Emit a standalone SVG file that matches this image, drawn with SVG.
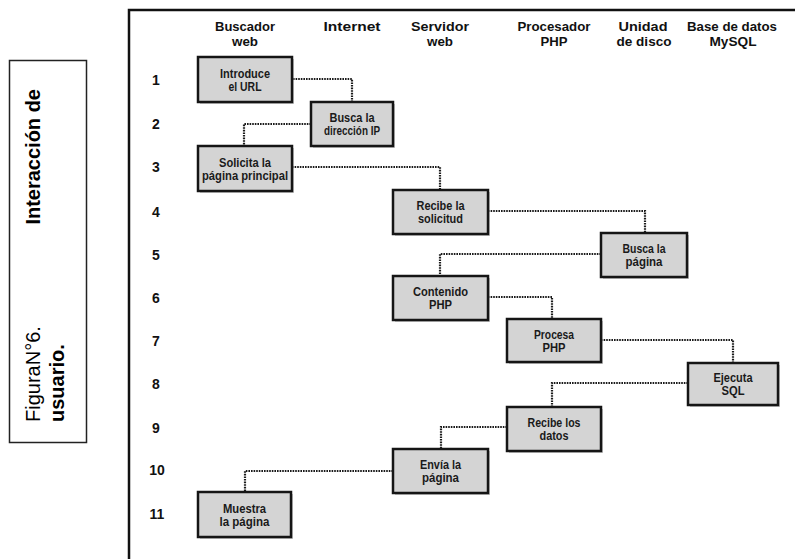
<svg xmlns="http://www.w3.org/2000/svg" width="795" height="559" viewBox="0 0 795 559">
<style>
.hdr{font-family:"Liberation Sans",Arial,sans-serif;font-weight:bold;font-size:13.5px;fill:#111;text-anchor:middle}
.num{font-family:"Liberation Sans",Arial,sans-serif;font-weight:bold;font-size:14px;fill:#111;text-anchor:middle}
.bt{font-family:"Liberation Sans",Arial,sans-serif;font-weight:bold;font-size:12px;fill:#1a1a1a;text-anchor:middle}
.box{fill:#d4d4d4;stroke:#151515;stroke-width:2.5}
.sh{fill:#9a9a9a;opacity:0.55}
.con{fill:none;stroke:#1a1a1a;stroke-width:2.2;stroke-dasharray:1.6 1}
.cap{font-family:"Liberation Sans",Arial,sans-serif;font-size:20px;fill:#000}
.frame{fill:none;stroke:#111;stroke-width:2.5}
</style>
<rect width="795" height="559" fill="#fff"/>
<g id="caption">
<rect x="9.5" y="60.5" width="77" height="382" fill="none" stroke="#222" stroke-width="1.5"/>
<text class="cap" transform="translate(40,422) rotate(-90)">FiguraN°6.</text>
<text class="cap" font-weight="bold" text-anchor="end" transform="translate(40,89) rotate(-90)">Interacción de</text>
<text class="cap" font-weight="bold" transform="translate(64,422) rotate(-90)">usuario.</text>
</g>
<path class="frame" d="M129,559 V10 H795"/>
<g id="headers">
<text class="hdr" x="245" y="31" textLength="60" lengthAdjust="spacingAndGlyphs">Buscador</text><text class="hdr" x="245" y="45.5" textLength="26" lengthAdjust="spacingAndGlyphs">web</text>
<text class="hdr" x="352" y="31" textLength="57" lengthAdjust="spacingAndGlyphs">Internet</text>
<text class="hdr" x="440" y="31" textLength="58" lengthAdjust="spacingAndGlyphs">Servidor</text><text class="hdr" x="440" y="45.5" textLength="26" lengthAdjust="spacingAndGlyphs">web</text>
<text class="hdr" x="554" y="31" textLength="73" lengthAdjust="spacingAndGlyphs">Procesador</text><text class="hdr" x="554" y="45.5" textLength="27" lengthAdjust="spacingAndGlyphs">PHP</text>
<text class="hdr" x="643" y="31" textLength="49" lengthAdjust="spacingAndGlyphs">Unidad</text><text class="hdr" x="644" y="45.5" textLength="55" lengthAdjust="spacingAndGlyphs">de disco</text>
<text class="hdr" x="732" y="31" textLength="90" lengthAdjust="spacingAndGlyphs">Base de datos</text><text class="hdr" x="733" y="45.5" textLength="47" lengthAdjust="spacingAndGlyphs">MySQL</text>
</g>
<g id="rows">
<text class="num" x="156" y="85">1</text>
<text class="num" x="156" y="129">2</text>
<text class="num" x="156" y="172">3</text>
<text class="num" x="156" y="217">4</text>
<text class="num" x="156" y="260">5</text>
<text class="num" x="156" y="303">6</text>
<text class="num" x="156" y="346">7</text>
<text class="num" x="156" y="389">8</text>
<text class="num" x="156" y="433">9</text>
<text class="num" x="157" y="475">10</text>
<text class="num" x="157" y="519">11</text>
</g>
<g id="connectors">
<path class="con" d="M293,79 H352 V102"/>
<path class="con" d="M311,124 H244 V146"/>
<path class="con" d="M292,167 H440 V190"/>
<path class="con" d="M488,211 H645 V233"/>
<path class="con" d="M601,254 H440 V276"/>
<path class="con" d="M488,297 H552 V319"/>
<path class="con" d="M601,340 H733 V363"/>
<path class="con" d="M688,383 H552 V407"/>
<path class="con" d="M507,427 H441 V449"/>
<path class="con" d="M393,471 H245 V492"/>
</g>
<g id="n1"><rect class="sh" x="200" y="59" width="94" height="45"/><rect class="box" x="198" y="57" width="94" height="45"/><text class="bt" x="245" y="77.5" textLength="50" lengthAdjust="spacingAndGlyphs">Introduce</text><text class="bt" x="245" y="90.5" textLength="33" lengthAdjust="spacingAndGlyphs">el URL</text></g>
<g id="n2"><rect class="sh" x="313" y="104" width="82" height="44"/><rect class="box" x="311" y="102" width="82" height="44"/><text class="bt" x="352" y="122" textLength="45" lengthAdjust="spacingAndGlyphs">Busca la</text><text class="bt" x="352" y="135" textLength="56" lengthAdjust="spacingAndGlyphs">dirección IP</text></g>
<g id="n3"><rect class="sh" x="200" y="148" width="94" height="45"/><rect class="box" x="198" y="146" width="94" height="45"/><text class="bt" x="245" y="166.5" textLength="52" lengthAdjust="spacingAndGlyphs">Solicita la</text><text class="bt" x="245" y="179.5" textLength="86" lengthAdjust="spacingAndGlyphs">página principal</text></g>
<g id="n4"><rect class="sh" x="395" y="192" width="95" height="44"/><rect class="box" x="393" y="190" width="95" height="44"/><text class="bt" x="440.5" y="210" textLength="48" lengthAdjust="spacingAndGlyphs">Recibe la</text><text class="bt" x="440.5" y="223" textLength="45" lengthAdjust="spacingAndGlyphs">solicitud</text></g>
<g id="n5"><rect class="sh" x="603" y="235" width="86" height="44"/><rect class="box" x="601" y="233" width="86" height="44"/><text class="bt" x="644" y="253" textLength="43" lengthAdjust="spacingAndGlyphs">Busca la</text><text class="bt" x="644" y="266" textLength="37" lengthAdjust="spacingAndGlyphs">página</text></g>
<g id="n6"><rect class="sh" x="395" y="278" width="95" height="44"/><rect class="box" x="393" y="276" width="95" height="44"/><text class="bt" x="440.5" y="296" textLength="55" lengthAdjust="spacingAndGlyphs">Contenido</text><text class="bt" x="440.5" y="309" textLength="23" lengthAdjust="spacingAndGlyphs">PHP</text></g>
<g id="n7"><rect class="sh" x="509" y="321" width="94" height="43"/><rect class="box" x="507" y="319" width="94" height="43"/><text class="bt" x="554" y="338.5" textLength="40" lengthAdjust="spacingAndGlyphs">Procesa</text><text class="bt" x="554" y="351.5" textLength="23" lengthAdjust="spacingAndGlyphs">PHP</text></g>
<g id="n8"><rect class="sh" x="690" y="365" width="90" height="42"/><rect class="box" x="688" y="363" width="90" height="42"/><text class="bt" x="733" y="382" textLength="39" lengthAdjust="spacingAndGlyphs">Ejecuta</text><text class="bt" x="733" y="395" textLength="23" lengthAdjust="spacingAndGlyphs">SQL</text></g>
<g id="n9"><rect class="sh" x="509" y="409" width="94" height="44"/><rect class="box" x="507" y="407" width="94" height="44"/><text class="bt" x="554" y="427" textLength="53" lengthAdjust="spacingAndGlyphs">Recibe los</text><text class="bt" x="554" y="440" textLength="29" lengthAdjust="spacingAndGlyphs">datos</text></g>
<g id="n10"><rect class="sh" x="395" y="451" width="95" height="44"/><rect class="box" x="393" y="449" width="95" height="44"/><text class="bt" x="440.5" y="469" textLength="41" lengthAdjust="spacingAndGlyphs">Envía la</text><text class="bt" x="440.5" y="482" textLength="37" lengthAdjust="spacingAndGlyphs">página</text></g>
<g id="n11"><rect class="sh" x="200" y="494" width="93" height="45"/><rect class="box" x="198" y="492" width="93" height="45"/><text class="bt" x="244.5" y="512.5" textLength="43" lengthAdjust="spacingAndGlyphs">Muestra</text><text class="bt" x="244.5" y="525.5" textLength="50" lengthAdjust="spacingAndGlyphs">la página</text></g>
</svg>
